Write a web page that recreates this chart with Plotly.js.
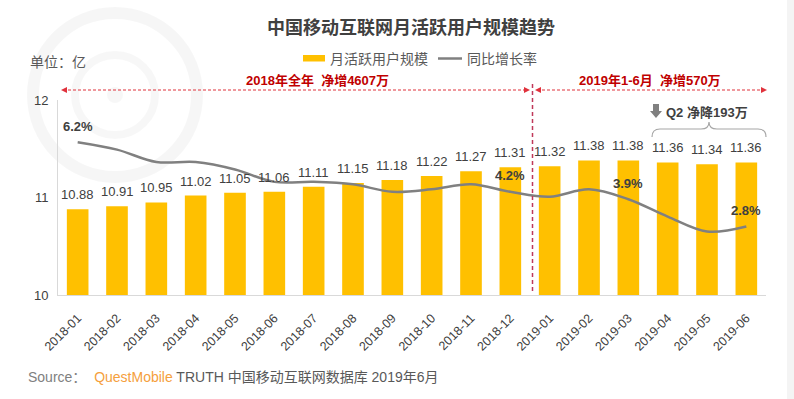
<!DOCTYPE html>
<html>
<head>
<meta charset="utf-8">
<script src="https://cdn.plot.ly/plotly-3.0.1.min.js"></script>
<style>html,body{margin:0;padding:0;background:#fff;}#chart{width:794px;height:399px;}</style>
</head>
<body>
<div id="chart"></div>
<script>
const months = ['2018-01','2018-02','2018-03','2018-04','2018-05','2018-06','2018-07','2018-08','2018-09','2018-10','2018-11','2018-12','2019-01','2019-02','2019-03','2019-04','2019-05','2019-06'];
const mau = [10.88,10.91,10.95,11.02,11.05,11.06,11.11,11.15,11.18,11.22,11.27,11.31,11.32,11.38,11.38,11.36,11.34,11.36];
const yoy = [6.2,5.9,5.4,5.4,5.1,4.6,4.6,4.5,4.2,4.3,4.5,4.2,4.0,4.3,3.9,3.2,2.6,2.8];
const yoyLabelIdx = [0,11,14,17];
const seriesNames = ['月活跃用户规模','同比增长率'];
const yTicks = [10,11,12];

const W = 794, H = 399, ML = 58, MR = 28, MT = 100, MB = 104;
const PW = W - ML - MR, PH = H - MT - MB;
const px = x => (x - ML) / PW;
const py = y => (H - MB - y) / PH;
const pt = (x, y) => px(x).toFixed(5) + ',' + py(y).toFixed(5);

const FONT = 'Liberation Sans, Arial, Noto Sans CJK SC, sans-serif';
const RED = '#c00000', DASH_RED = '#e0323c';
const BAR_COLOR = '#ffc000', LINE_COLOR = '#808080';

const traces = [
  {
    type: 'bar', name: seriesNames[0], x: months, y: mau,
    marker: {color: BAR_COLOR}, width: 0.55,
    hoverinfo: 'x+y', showlegend: false
  },
  {
    type: 'scatter', mode: 'lines', name: seriesNames[1], x: months, y: yoy, yaxis: 'y2',
    line: {color: LINE_COLOR, width: 2.5, shape: 'spline', smoothing: 1},
    cliponaxis: false, showlegend: false
  }
];

const annotations = [];
// bar value labels
months.forEach((m, i) => {
  annotations.push({
    xref: 'x', yref: 'y', x: m, y: mau[i], yanchor: 'middle', yshift: 14.5,
    text: mau[i].toFixed(2), showarrow: false,
    font: {size: 13, color: '#404040', family: FONT}
  });
});
// growth-rate labels
yoyLabelIdx.forEach(i => {
  annotations.push({
    xref: 'x', yref: 'y2', x: months[i], y: yoy[i], yshift: 16,
    text: '<b>' + yoy[i].toFixed(1) + '%</b>', showarrow: false,
    font: {size: 13, color: '#404040', family: FONT}
  });
});
annotations.push(
  // legend texts
  {xref: 'paper', yref: 'paper', x: px(328), y: py(58.5), xanchor: 'left', yanchor: 'middle',
   text: seriesNames[0], showarrow: false, font: {size: 14, color: '#595959', family: FONT}},
  {xref: 'paper', yref: 'paper', x: px(465), y: py(58.5), xanchor: 'left', yanchor: 'middle',
   text: seriesNames[1], showarrow: false, font: {size: 14, color: '#595959', family: FONT}},
  {xref: 'paper', yref: 'paper', x: px(28), y: py(62), xanchor: 'left', yanchor: 'middle',
   text: '单位：亿', showarrow: false, font: {size: 14, color: '#595959', family: FONT}},
  {xref: 'paper', yref: 'paper', x: px(317), y: py(80.5), xanchor: 'center', yanchor: 'middle',
   text: '<b>2018年全年&nbsp; 净增4607万</b>', showarrow: false, font: {size: 13, color: RED, family: FONT}},
  {xref: 'paper', yref: 'paper', x: px(650), y: py(80.5), xanchor: 'center', yanchor: 'middle',
   text: '<b>2019年1-6月&nbsp; 净增570万</b>', showarrow: false, font: {size: 13, color: RED, family: FONT}},
  {xref: 'paper', yref: 'paper', x: px(664), y: py(112), xanchor: 'left', yanchor: 'middle',
   text: '<b>Q2 净降193万</b>', showarrow: false, font: {size: 13, color: '#404040', family: FONT}},
  {xref: 'paper', yref: 'paper', x: px(26), y: py(377), xanchor: 'left', yanchor: 'middle',
   text: 'Source：  <span style="color:#f5a03c">QuestMobile</span><span style="color:#595959"> TRUTH 中国移动互联网数据库 2019年6月</span>',
   showarrow: false, font: {size: 14, color: '#808080', family: FONT}}
);

function tri(tipX, tipY, dir) {
  const bx = tipX - dir * 6;
  return 'M' + pt(tipX, tipY) + ' L' + pt(bx, tipY - 3) + ' L' + pt(bx, tipY + 3) + ' Z';
}

const shapes = [
  // watermark logo
  {type: 'circle', xref: 'paper', yref: 'paper', x0: px(33), x1: px(197), y0: py(177), y1: py(13),
   line: {color: 'rgba(0,0,0,0.035)', width: 12}, layer: 'below'},
  {type: 'circle', xref: 'paper', yref: 'paper', x0: px(75), x1: px(155), y0: py(135), y1: py(55),
   line: {color: 'rgba(0,0,0,0.03)', width: 8}, layer: 'below'},
  {type: 'circle', xref: 'paper', yref: 'paper', x0: px(107), x1: px(123), y0: py(103), y1: py(87),
   fillcolor: 'rgba(0,0,0,0.03)', line: {width: 0}, layer: 'below'},
  // right edge strip
  {type: 'rect', xref: 'paper', yref: 'paper', x0: px(787), x1: px(794), y0: py(399), y1: py(0),
   fillcolor: '#f4f4f4', line: {width: 0}, layer: 'below'},
  // legend swatches
  {type: 'rect', xref: 'paper', yref: 'paper', x0: px(303), x1: px(325), y0: py(61.5), y1: py(55),
   fillcolor: BAR_COLOR, line: {width: 0}},
  {type: 'line', xref: 'paper', yref: 'paper', x0: px(438), x1: px(462), y0: py(58.5), y1: py(58.5),
   line: {color: LINE_COLOR, width: 2.5}},
  // dashed period lines
  {type: 'line', xref: 'paper', yref: 'paper', x0: px(63), x1: px(527), y0: py(90), y1: py(90),
   line: {color: DASH_RED, width: 1.2, dash: '3px,2px'}},
  {type: 'line', xref: 'paper', yref: 'paper', x0: px(537), x1: px(765), y0: py(90), y1: py(90),
   line: {color: DASH_RED, width: 1.2, dash: '3px,2px'}},
  {type: 'line', xref: 'paper', yref: 'paper', x0: px(532.5), x1: px(532.5), y0: py(84), y1: py(292),
   line: {color: '#c0385a', width: 1.5, dash: '4px,3px'}},
  {type: 'path', xref: 'paper', yref: 'paper', path: tri(61, 90, -1), fillcolor: DASH_RED, line: {width: 0}},
  {type: 'path', xref: 'paper', yref: 'paper', path: tri(530, 90, 1), fillcolor: DASH_RED, line: {width: 0}},
  {type: 'path', xref: 'paper', yref: 'paper', path: tri(535, 90, -1), fillcolor: DASH_RED, line: {width: 0}},
  {type: 'path', xref: 'paper', yref: 'paper', path: tri(767, 90, 1), fillcolor: DASH_RED, line: {width: 0}},
  // Q2 down arrow icon
  {type: 'path', xref: 'paper', yref: 'paper',
   path: 'M' + pt(653, 104) + ' L' + pt(659, 104) + ' L' + pt(659, 111) + ' L' + pt(662, 111) + ' L' + pt(656, 118) +
         ' L' + pt(650, 111) + ' L' + pt(653, 111) + ' Z',
   fillcolor: '#808080', line: {width: 0}},
  // brace
  {type: 'path', xref: 'paper', yref: 'paper',
   path: 'M' + pt(652, 137) + ' Q' + pt(652, 129) + ' ' + pt(660, 129) + ' L' + pt(701, 129) +
         ' Q' + pt(709, 129) + ' ' + pt(709, 122) + ' Q' + pt(709, 129) + ' ' + pt(717, 129) +
         ' L' + pt(758, 129) + ' Q' + pt(766, 129) + ' ' + pt(766, 137),
   line: {color: '#a6a6a6', width: 1.2}}
];

const layout = {
  width: W, height: H,
  margin: {l: ML, r: MR, t: MT, b: MB, pad: 0},
  paper_bgcolor: '#ffffff', plot_bgcolor: 'rgba(0,0,0,0)',
  font: {family: FONT, color: '#404040'},
  title: {text: '<b>中国移动互联网月活跃用户规模趋势</b>', xref: 'container', yref: 'container',
          x: 411 / W, y: 1 - 28 / H, xanchor: 'center', yanchor: 'middle',
          font: {size: 18, color: '#404040', family: 'Noto Sans CJK SC, sans-serif'}},
  showlegend: false,
  xaxis: {type: 'category', range: [-0.5, 17.5], showline: true, linecolor: '#d9d9d9', linewidth: 1,
          ticks: '', tickangle: -45, ticklabelstandoff: 10, tickfont: {size: 12.5, color: '#404040', family: FONT},
          showgrid: false, zeroline: false, fixedrange: true},
  yaxis: {range: [10, 12], tickvals: yTicks, showline: true, linecolor: '#d9d9d9', linewidth: 1,
          ticks: '', ticklabelstandoff: 6, tickfont: {size: 13, color: '#404040', family: FONT},
          showgrid: false, zeroline: false, fixedrange: true},
  yaxis2: {overlaying: 'y', side: 'right', range: [0.04, 7.9], visible: false, showgrid: false, zeroline: false},
  annotations: annotations,
  shapes: shapes
};

Plotly.newPlot('chart', traces, layout, {displayModeBar: false, staticPlot: true});
</script>
</body>
</html>
